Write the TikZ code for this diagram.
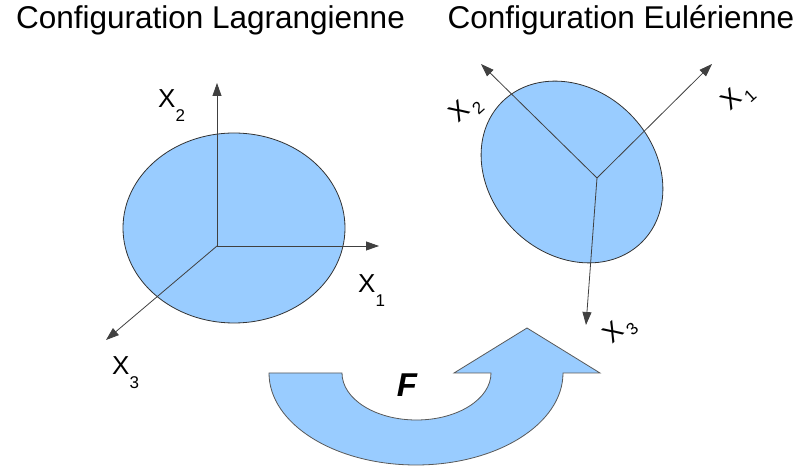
\documentclass[tikz,border=0pt]{standalone}
\usepackage{fontspec}
\setmainfont{Liberation Sans}
\usetikzlibrary{arrows.meta}
\definecolor{corps}{HTML}{99CCFF}
\newcommand{\axlab}[2]{#1\raisebox{-0.52em}{\fontsize{17}{17}\selectfont #2}}
\newcommand{\axlabr}[2]{#1\kern3pt\raisebox{-0.3em}{\fontsize{17}{17}\selectfont #2}}
\begin{document}
\begin{tikzpicture}[x=1pt, y=1pt,
    body/.style={fill=corps, draw=black!80, line width=0.8pt},
    axis/.style={draw=black!75, line width=0.8pt, -{Triangle[length=13pt, width=9pt]}},
    lab/.style={inner sep=0pt, font=\fontsize{26}{30}\selectfont},
    titre/.style={inner sep=0pt, anchor=base, font=\fontsize{31.5}{36}\selectfont}]
    \useasboundingbox (0,0) rectangle (807,468);
    % titres
    \node[titre] (lagr) at (210.5,439) {Configuration Lagrangienne};
    \node[titre] (eul) at (621,439) {Configuration Eulérienne};
    % configuration initiale
    \draw[body] (234,240) ellipse (111 and 95);
    \coordinate (O1) at (217,222);
    \coordinate (A1) at (379,222);
    \coordinate (A2) at (217,385);
    \coordinate (A3) at (106,128);
    \draw[axis] (O1) -- (A1);
    \draw[axis] (O1) -- (A2);
    \draw[axis] (O1) -- (A3);
    \node[lab, anchor=base west] (X1) at (358,175) {\axlab{X}{1}};
    \node[lab, anchor=base west] (X2) at (158,360) {\axlab{X}{2}};
    \node[lab, anchor=base west] (X3) at (112,93) {\axlab{X}{3}};
    % configuration actuelle
    \draw[body, rotate around={-45:(572,296)}] (572,296) ellipse (99 and 82);
    \coordinate (O2) at (597,290);
    \coordinate (a1) at (712,404);
    \coordinate (a2) at (481,404);
    \coordinate (a3) at (586,143);
    \draw[axis] (O2) -- (a1);
    \draw[axis] (O2) -- (a2);
    \draw[axis] (O2) -- (a3);
    \node[lab, rotate=42] (x1) at (738,370) {\axlabr{X}{1}};
    \node[lab, rotate=42] (x2) at (466,358) {\axlabr{X}{2}};
    \node[lab, rotate=42] (x3) at (620,137) {\axlabr{X}{3}};
    % transformation
    \draw[fill=corps, draw=black!65, line width=0.8pt]
        (269,95) arc[start angle=180, end angle=360, x radius=147, y radius=92]
        -- (600,95) -- (527,140) -- (454,95) -- (491,95)
        arc[start angle=0, end angle=-180, x radius=74.5, y radius=47] -- cycle;
    \node[inner sep=0pt, font=\fontsize{33}{36}\selectfont\bfseries\itshape] (F) at (407,83) {F};
\end{tikzpicture}
\end{document}
